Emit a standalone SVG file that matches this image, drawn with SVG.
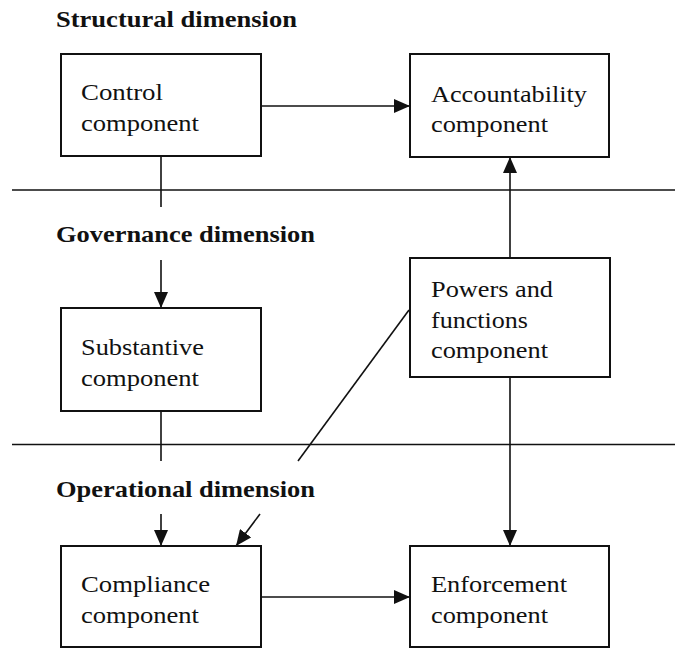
<svg xmlns="http://www.w3.org/2000/svg" width="675" height="648" viewBox="0 0 675 648">
<style>
.box{fill:#fff;stroke:#111;stroke-width:2}
.ln{fill:none;stroke:#111;stroke-width:1.6}
.t{font-family:"Liberation Serif","Times New Roman",serif;font-size:24px;fill:#111}
.h{font-family:"Liberation Serif","Times New Roman",serif;font-size:23.5px;font-weight:bold;fill:#111}
</style>
<defs>
<marker id="ah" viewBox="0 0 16 14" refX="16" refY="7" markerWidth="16" markerHeight="14" markerUnits="userSpaceOnUse" orient="auto">
<path d="M0,0 L16,7 L0,14 Z" fill="#111"/>
</marker>
</defs>
<rect width="675" height="648" fill="#fff"/>
<g id="headings">
<text class="h" x="56" y="27" textLength="241" lengthAdjust="spacingAndGlyphs">Structural dimension</text>
<text class="h" x="56" y="242" textLength="259" lengthAdjust="spacingAndGlyphs">Governance dimension</text>
<text class="h" x="56" y="497" textLength="259" lengthAdjust="spacingAndGlyphs">Operational dimension</text>
</g>
<g id="dividers">
<line class="ln" x1="12" y1="190" x2="675" y2="190"/>
<line class="ln" x1="12" y1="444.5" x2="675" y2="444.5"/>
</g>
<g id="connectors">
<line class="ln" x1="261" y1="106" x2="410" y2="106" marker-end="url(#ah)"/>
<line class="ln" x1="161" y1="156" x2="161" y2="207"/>
<line class="ln" x1="161" y1="260" x2="161" y2="308" marker-end="url(#ah)"/>
<line class="ln" x1="510" y1="258" x2="510" y2="157" marker-end="url(#ah)"/>
<line class="ln" x1="161" y1="411" x2="161" y2="461"/>
<line class="ln" x1="409" y1="310" x2="298" y2="461"/>
<line class="ln" x1="161" y1="514" x2="161" y2="546" marker-end="url(#ah)"/>
<line class="ln" x1="260" y1="514" x2="236" y2="546" marker-end="url(#ah)"/>
<line class="ln" x1="510" y1="377" x2="510" y2="546" marker-end="url(#ah)"/>
<line class="ln" x1="261" y1="597" x2="410" y2="597" marker-end="url(#ah)"/>
</g>
<g id="control">
<rect class="box" x="61" y="54" width="200" height="102"/>
<text class="t" x="81" y="100" textLength="82" lengthAdjust="spacingAndGlyphs">Control</text>
<text class="t" x="81" y="131" textLength="118" lengthAdjust="spacingAndGlyphs">component</text>
</g>
<g id="accountability">
<rect class="box" x="410" y="54" width="199" height="103"/>
<text class="t" x="431" y="102" textLength="156" lengthAdjust="spacingAndGlyphs">Accountability</text>
<text class="t" x="431" y="132" textLength="117" lengthAdjust="spacingAndGlyphs">component</text>
</g>
<g id="substantive">
<rect class="box" x="61" y="308" width="200" height="103"/>
<text class="t" x="81" y="355" textLength="123" lengthAdjust="spacingAndGlyphs">Substantive</text>
<text class="t" x="81" y="386" textLength="118" lengthAdjust="spacingAndGlyphs">component</text>
</g>
<g id="powers">
<rect class="box" x="410" y="258" width="200" height="119"/>
<text class="t" x="431" y="297" textLength="122" lengthAdjust="spacingAndGlyphs">Powers and</text>
<text class="t" x="431" y="328" textLength="97" lengthAdjust="spacingAndGlyphs">functions</text>
<text class="t" x="431" y="358" textLength="117" lengthAdjust="spacingAndGlyphs">component</text>
</g>
<g id="compliance">
<rect class="box" x="61" y="546" width="200" height="101"/>
<text class="t" x="81" y="592" textLength="129" lengthAdjust="spacingAndGlyphs">Compliance</text>
<text class="t" x="81" y="623" textLength="118" lengthAdjust="spacingAndGlyphs">component</text>
</g>
<g id="enforcement">
<rect class="box" x="410" y="546" width="199" height="101"/>
<text class="t" x="431" y="592" textLength="136" lengthAdjust="spacingAndGlyphs">Enforcement</text>
<text class="t" x="431" y="623" textLength="117" lengthAdjust="spacingAndGlyphs">component</text>
</g>
</svg>
